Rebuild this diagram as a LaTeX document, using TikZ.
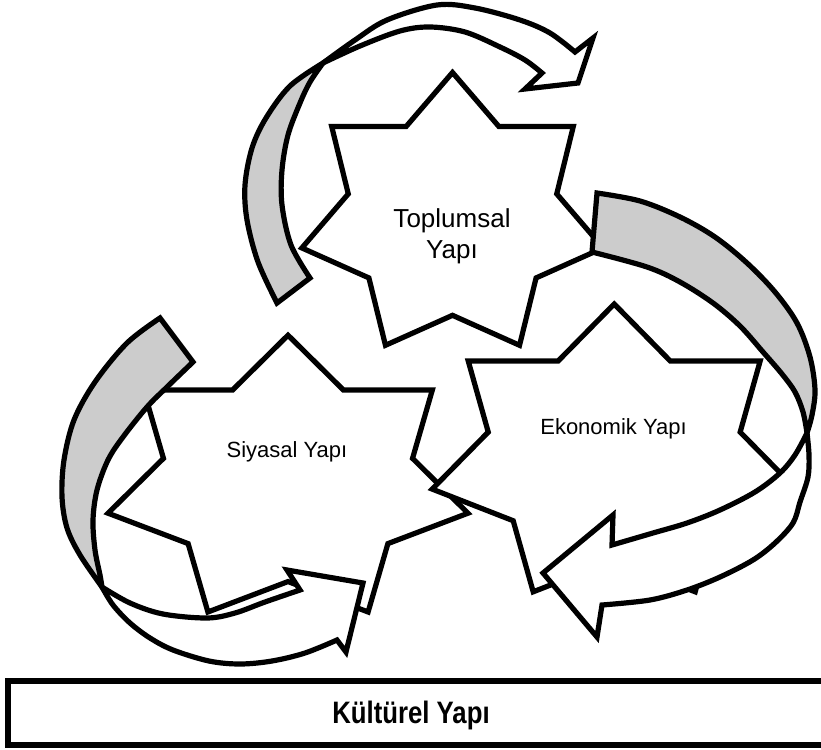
\documentclass[tikz,border=0pt]{standalone}
\usepackage{fontspec}
\usepackage{graphicx}
\setmainfont{Liberation Sans}
\definecolor{backgray}{RGB}{204,204,204}
\tikzset{
  outline/.style={draw=black, line width=5.2pt, line join=miter, miter limit=10},
  starbox/.style={outline, fill=white},
  band/.style={outline, fill=white},
  backside/.style={outline, fill=backgray},
  label/.style={inner sep=0pt, text=black, anchor=base},
  curve/.style={smooth, tension=0.55}
}
% 7-point star: centre x, centre y, half width, half height
\newcommand\sevenstar[4]{%
\filldraw[starbox]
 ({#1-0.97493*#3},{#2+0.22252*#4}) --
 ({#1-0.67466*#3},{#2-0.15399*#4}) --
 ({#1-0.78183*#3},{#2-0.62349*#4}) --
 ({#1-0.30026*#3},{#2-0.62349*#4}) --
 ({#1},{#2-#4}) --
 ({#1+0.30026*#3},{#2-0.62349*#4}) --
 ({#1+0.78183*#3},{#2-0.62349*#4}) --
 ({#1+0.67466*#3},{#2-0.15399*#4}) --
 ({#1+0.97493*#3},{#2+0.22252*#4}) --
 ({#1+0.54104*#3},{#2+0.43147*#4}) --
 ({#1+0.43388*#3},{#2+0.90097*#4}) --
 ({#1},{#2+0.69202*#4}) --
 ({#1-0.43388*#3},{#2+0.90097*#4}) --
 ({#1-0.54104*#3},{#2+0.43147*#4}) -- cycle;}
\begin{document}
\begin{tikzpicture}[x=1pt,y=-1pt]
\clip (0,0) rectangle (821,749);
\fill[white] (0,0) rectangle (821,749);

% stars
\sevenstar{288}{480.8}{184.6}{145.6}
\sevenstar{452.5}{216}{154.5}{143.5}
\sevenstar{614.2}{455.4}{186.7}{151.4}

% labels
\node[label, font=\fontsize{26}{30}\selectfont] (toplumsal) at (452,227) {Toplumsal};
\node[label, font=\fontsize{26}{30}\selectfont] (toplumsal2) at (452,258) {Yapı};
\node[label, font=\fontsize{22}{26}\selectfont] (siyasal) at (287,457) {Siyasal Yapı};
\node[label, font=\fontsize{22}{26}\selectfont] (ekonomik) at (613.5,434) {Ekonomik Yapı};

% top arrow
\filldraw[backside] plot[curve] coordinates {(277,303) (258,262) (247,220) (245,185) (252,148) (266,118) (290,86) (323,63)}
  -- plot[curve] coordinates {(323,63) (310,82) (300,103) (288,135) (282,170) (282,205) (291,245) (310,278)} -- cycle;
\filldraw[band] plot[curve] coordinates {(323,63) (355,40) (387,20) (437,5) (475,8) (520,20) (550,33) (575,52)}
  -- (593,38) -- (578,83) -- (525,89)
  -- plot[curve] coordinates {(542,73) (525,60) (500,47) (465,32) (430,27) (400,31) (360,46) (323,63)} -- cycle;

% right arrow
\filldraw[backside] plot[curve] coordinates {(597,193) (640,201) (680,217) (715,237) (747,263) (775,292) (797,323) (810,357) (815,390) (812,415) (807,433)}
  -- plot[curve] coordinates {(807,433) (803,412) (795,392) (782,374) (763,352) (740,326) (713,303) (680,282) (647,267) (592,252)} -- cycle;
\filldraw[band] plot[curve] coordinates {(807,433) (809,455) (808,477) (800,502) (793,523) (775,543) (753,560) (720,577) (687,590) (650,600) (602,605)}
  -- (597,637) -- (543,573) -- (613,515)
  -- plot[curve] coordinates {(612,545) (653,533) (687,523) (720,510) (755,492) (780,473) (795,455) (807,433)} -- cycle;

% left arrow
\filldraw[backside] plot[curve] coordinates {(160,318) (127,343) (95,382) (74,420) (64,460) (62,497) (67,528) (80,555) (102,587)}
  -- plot[curve] coordinates {(102,587) (100,575) (95,550) (93,520) (97,490) (108,460) (123,437) (147,407) (167,387) (193,362)} -- cycle;
\filldraw[band] plot[curve] coordinates {(102,587) (130,603) (163,614) (207,618) (235,613) (265,602) (300,590)}
  -- (287,570) -- (363,583) -- (346,652)
  -- plot[curve] coordinates {(337,640) (305,653) (272,661) (240,664) (209,661) (173,650) (150,638) (130,623) (113,605) (102,587)} -- cycle;

% base box
\node[outline, fill=white, minimum width=817pt, minimum height=64pt, inner sep=0pt] (kulturbox) at (416.5,713) {};
\node[label, font=\bfseries\fontsize{31}{34}\selectfont] (kultur) at (411,723) {\scalebox{0.83}[1]{Kültürel Yapı}};
\end{tikzpicture}
\end{document}
